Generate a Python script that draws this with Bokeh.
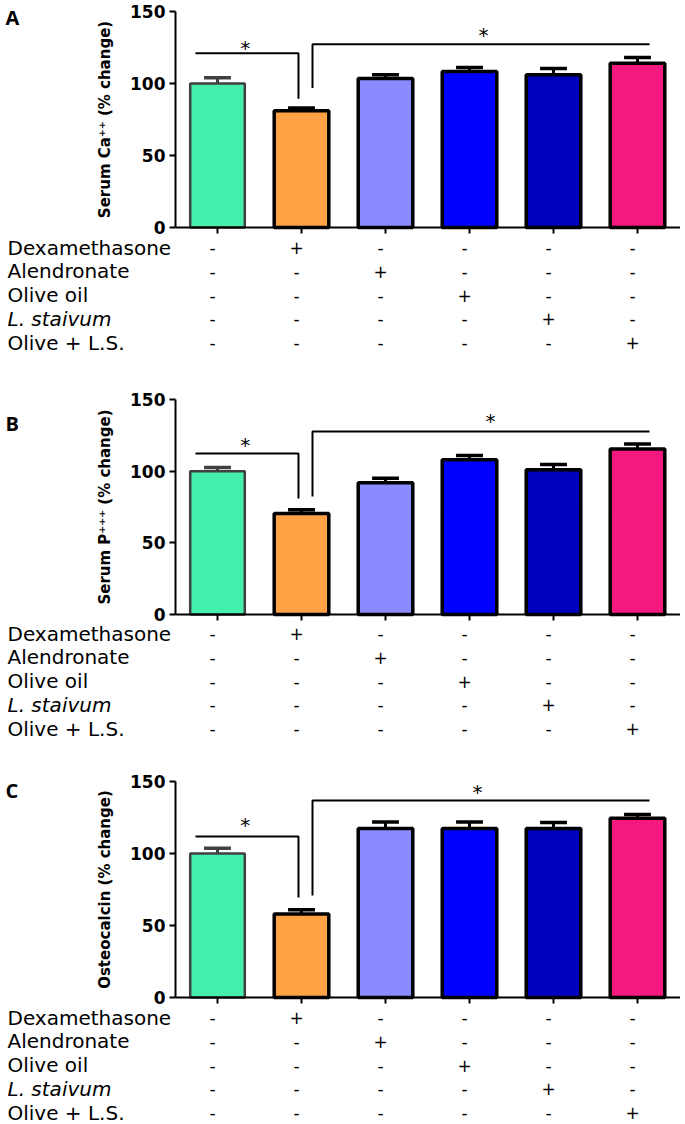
from bokeh.plotting import figure
from bokeh.models import Range1d, FixedTicker, CustomJSTickFormatter
from bokeh.layouts import column
from bokeh.embed import file_html
from bokeh.resources import INLINE
from bokeh.core.properties import value

# ---------------- data ----------------
groups = ["Control", "Dexamethasone", "Alendronate", "Olive oil", "L. staivum", "Olive + L.S."]
bar_colors = ["#44F0AC", "#FFA245", "#8B8BFF", "#0000FF", "#0000BF", "#F5187E"]

row_labels = ["Dexamethasone", "Alendronate", "Olive oil", "L. staivum", "Olive + L.S."]
treatment = [
    [0, 1, 0, 0, 0, 0],
    [0, 0, 1, 0, 0, 0],
    [0, 0, 0, 1, 0, 0],
    [0, 0, 0, 0, 1, 0],
    [0, 0, 0, 0, 0, 1],
]

ca_mean = [100, 81, 103.5, 108.3, 106, 114.1]
ca_sem = [4, 2, 2.5, 2.8, 4.4, 4]
p_mean = [100, 70.5, 92, 108, 101, 115.5]
p_sem = [2.5, 2.5, 3, 3, 3.7, 3.5]
oc_mean = [100, 58, 117.4, 117.4, 117.4, 124.4]
oc_sem = [3.6, 3, 4.5, 4.5, 4.1, 2.6]

ylabels = ["Serum Ca\u207a\u207a (% change)", "Serum P\u207a\u207a\u207a (% change)", "Osteocalcin (% change)"]
letters = ["A", "B", "C"]
yticks = [0, 50, 100, 150]

# significance brackets: (level, drop) control vs dexa ; (low, high) dexa vs treatments
sig1 = [(121, 89.4), (112.3, 81), (111.8, 69.4)]
sig2 = [(96.8, 127.3), (82.3, 127.7), (70.8, 136.8)]
star1_y = [126, 120, 121.5]
star2_y = [135.4, 136.5, 144.4]
star2_x = [3.667, 3.75, 3.595]

# ---------------- layout constants ----------------
PX = 84.0           # pixels per category
AX_X = 175          # page x of the y axis
FIG_W = 680
X_START = -AX_X / PX
X_END = (FIG_W - AX_X) / PX
FONT = "DejaVu Sans"


def panel(k, mean, sem, top_px, bot_px, y150_px, y0_px, first_row_px, row_gap, letter_px):
    scale = (y0_px - y150_px) / 150.0

    def yd(px):
        return (y0_px - px) / scale

    xs = [i + 0.5 for i in range(len(groups))]
    p = figure(frame_width=FIG_W, frame_height=bot_px - top_px,
               x_range=Range1d(X_START, X_END),
               y_range=Range1d(yd(bot_px), yd(top_px)),
               output_backend="svg", toolbar_location=None,
               min_border_left=0, min_border_right=0,
               min_border_top=0, min_border_bottom=0)
    p.grid.visible = False
    p.outline_line_color = None

    ya = p.yaxis[0]
    ya.fixed_location = 0
    ya.bounds = (0, 150)
    ya.ticker = FixedTicker(ticks=yticks)
    ya.minor_tick_line_color = None
    ya.major_tick_in = 0
    ya.major_tick_out = 6
    ya.major_tick_line_width = 2
    ya.axis_line_width = 2
    ya.major_label_text_font = FONT
    ya.major_label_text_font_size = "17px"
    ya.major_label_text_font_style = "bold"
    ya.major_label_text_color = "black"
    ya.major_label_standoff = 4
    ya.axis_label = ylabels[k]
    ya.axis_label_text_font = FONT
    ya.axis_label_text_font_size = "15px"
    ya.axis_label_text_font_style = "bold"
    ya.axis_label_text_color = "black"
    ya.axis_label_standoff = 13

    xa = p.xaxis[0]
    xa.fixed_location = 0
    xa.bounds = (0, X_END)
    xa.ticker = FixedTicker(ticks=xs)
    xa.formatter = CustomJSTickFormatter(code="return ''")
    xa.minor_tick_line_color = None
    xa.major_tick_in = 0
    xa.major_tick_out = 6
    xa.major_tick_line_width = 2
    xa.axis_line_width = 2
    xa.major_label_standoff = 0

    line_colors = ["#404040"] + ["black"] * 5
    lws = [2.5] + [3.5] * 5
    tops = [m + s for m, s in zip(mean, sem)]

    # error bars (upper only, with cap)
    p.segment(x0=xs, y0=mean, x1=xs, y1=tops, line_color=line_colors, line_width=3)
    p.segment(x0=[x - 0.16 for x in xs], y0=tops, x1=[x + 0.16 for x in xs], y1=tops,
              line_color=line_colors, line_width=3.5)
    # bars
    p.vbar(x=xs, top=mean, bottom=0, width=0.65, fill_color=bar_colors,
           line_color=line_colors, line_width=lws)

    # significance brackets
    lvl, drop = sig1[k]
    p.line(x=[0.238, 1.464, 1.464], y=[lvl, lvl, drop], line_color="black", line_width=2)
    low, high = sig2[k]
    p.line(x=[1.631, 1.631, 5.643], y=[low, high, high], line_color="black", line_width=2)
    p.text(x=[0.83, star2_x[k]], y=[star1_y[k], star2_y[k]], text=["*", "*"],
           text_font=value(FONT), text_font_size="20px", text_align="center",
           text_baseline="middle", y_offset=2, text_color="black")

    # panel letter
    p.text(x=[(5 - AX_X) / PX], y=[yd(letter_px)], text=[letters[k]],
           text_font=value("Open Sans"), text_font_size="20px", text_font_style="bold",
           text_align="left", text_baseline="alphabetic", text_color="black")

    # treatment table below the axis
    row_y = [yd(first_row_px + r * row_gap) for r in range(len(row_labels))]
    for r, lab in enumerate(row_labels):
        p.text(x=[(7 - AX_X) / PX], y=[row_y[r]], text=[lab], text_font=value(FONT),
               text_font_size="20px", text_align="left", text_baseline="middle",
               text_font_style="italic" if lab.startswith("L.") else "normal",
               text_color="black")
    sx, sy, st = [], [], []
    for r, row in enumerate(treatment):
        for c, v in enumerate(row):
            sx.append(xs[c])
            sy.append(row_y[r])
            st.append("+" if v else "-")
    p.text(x=sx, y=sy, text=st, text_font=value(FONT), text_font_size="17px",
           text_align="center", text_baseline="middle", x_offset=-5, text_color="black")
    return p


pa = panel(0, ca_mean, ca_sem, 0, 385, 11, 227, 247, 23.75, 17)
pb = panel(1, p_mean, p_sem, 385, 767, 399, 614, 633, 23.75, 423)
pc = panel(2, oc_mean, oc_sem, 767, 1124, 781, 997, 1017, 23.75, 790)

layout = column(pa, pb, pc, spacing=0)
open("out.html", "w").write(file_html(layout, INLINE))
